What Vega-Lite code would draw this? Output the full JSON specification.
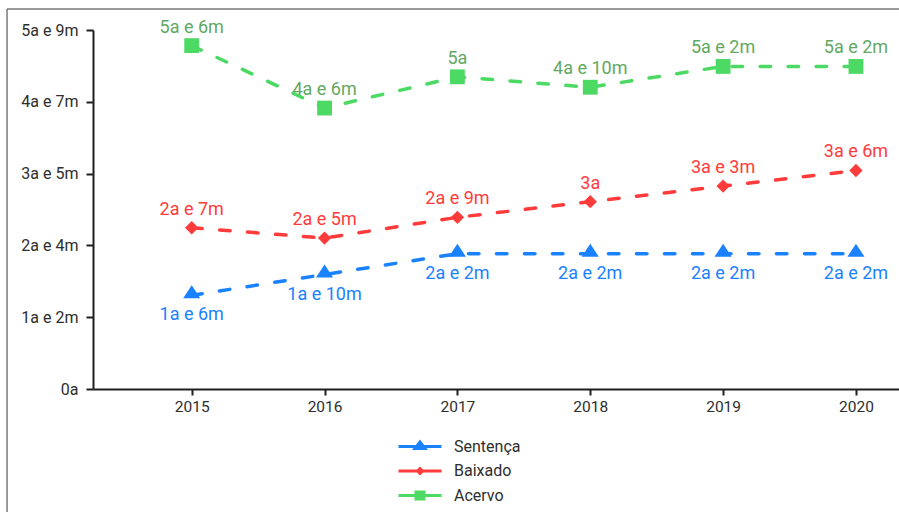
{
  "$schema": "https://vega.github.io/schema/vega-lite/v6.json",
  "width": 806,
  "height": 359,
  "autosize": {"type": "none"},
  "padding": {"left": 93, "top": 30, "right": 0, "bottom": 123},
  "background": "white",
  "config": {
    "view": {"stroke": null},
    "font": "Roboto",
    "axis": {
      "domainColor": "#1f1f1f",
      "domainWidth": 2,
      "tickColor": "#1f1f1f",
      "tickWidth": 2,
      "tickSize": 6,
      "labelColor": "#2e2e2e",
      "labelFont": "Roboto",
      "labelFontSize": 16,
      "grid": false,
      "title": null
    },
    "legend": {
      "title": null,
      "orient": "none",
      "legendX": 315.5,
      "legendY": 405,
      "padding": 0,
      "symbolSize": 400,
      "symbolStrokeWidth": 3,
      "symbolOpacity": 1,
      "labelOffset": 22.5,
      "rowPadding": 4.5,
      "labelFont": "Roboto",
      "labelFontSize": 16,
      "labelColor": "#2e2e2e"
    }
  },
  "datasets": {
    "tempos": [
      {"ano": 2015, "serie": "Sentença", "valor": 1.5, "rotulo": "1a e 6m"},
      {"ano": 2016, "serie": "Sentença", "valor": 1.8333, "rotulo": "1a e 10m"},
      {"ano": 2017, "serie": "Sentença", "valor": 2.1667, "rotulo": "2a e 2m"},
      {"ano": 2018, "serie": "Sentença", "valor": 2.1667, "rotulo": "2a e 2m"},
      {"ano": 2019, "serie": "Sentença", "valor": 2.1667, "rotulo": "2a e 2m"},
      {"ano": 2020, "serie": "Sentença", "valor": 2.1667, "rotulo": "2a e 2m"},
      {"ano": 2015, "serie": "Baixado", "valor": 2.5833, "rotulo": "2a e 7m"},
      {"ano": 2016, "serie": "Baixado", "valor": 2.4167, "rotulo": "2a e 5m"},
      {"ano": 2017, "serie": "Baixado", "valor": 2.75, "rotulo": "2a e 9m"},
      {"ano": 2018, "serie": "Baixado", "valor": 3.0, "rotulo": "3a"},
      {"ano": 2019, "serie": "Baixado", "valor": 3.25, "rotulo": "3a e 3m"},
      {"ano": 2020, "serie": "Baixado", "valor": 3.5, "rotulo": "3a e 6m"},
      {"ano": 2015, "serie": "Acervo", "valor": 5.5, "rotulo": "5a e 6m"},
      {"ano": 2016, "serie": "Acervo", "valor": 4.5, "rotulo": "4a e 6m"},
      {"ano": 2017, "serie": "Acervo", "valor": 5.0, "rotulo": "5a"},
      {"ano": 2018, "serie": "Acervo", "valor": 4.8333, "rotulo": "4a e 10m"},
      {"ano": 2019, "serie": "Acervo", "valor": 5.1667, "rotulo": "5a e 2m"},
      {"ano": 2020, "serie": "Acervo", "valor": 5.1667, "rotulo": "5a e 2m"}
    ]
  },
  "layer": [
    {
      "data": {"values": [{"moldura": "topo"}]},
      "mark": {"type": "rule", "color": "#7a7a7a", "strokeWidth": 1.5, "clip": false},
      "encoding": {
        "x": {"datum": 2013.61, "type": "quantitative", "scale": {"domain": [2014.257, 2020.324], "nice": false, "zero": false}},
        "x2": {"datum": 2020.6},
        "y": {"datum": 6.087, "type": "quantitative", "scale": {"domain": [0, 5.75], "nice": false, "zero": true}}
      }
    },
    {
      "data": {"values": [{"moldura": "esquerda"}]},
      "mark": {"type": "rule", "color": "#7a7a7a", "strokeWidth": 1.5, "clip": false},
      "encoding": {
        "x": {"datum": 2013.61, "type": "quantitative"},
        "y": {"datum": 6.087, "type": "quantitative"},
        "y2": {"datum": -2.2}
      }
    },
    {
      "data": {"name": "tempos"},
      "encoding": {
        "x": {
          "field": "ano",
          "type": "quantitative",
          "scale": {"domain": [2014.257, 2020.324], "nice": false, "zero": false},
          "axis": {"values": [2015, 2016, 2017, 2018, 2019, 2020], "format": "d", "labelPadding": 4, "labelFontSize": 15.5}
        },
        "y": {
          "field": "valor",
          "type": "quantitative",
          "scale": {"domain": [0, 5.75], "nice": false, "zero": true},
          "axis": {
            "values": [0, 1.15, 2.3, 3.45, 4.6, 5.75],
            "labelExpr": "['0a','1a e 2m','2a e 4m','3a e 5m','4a e 7m','5a e 9m'][round(datum.value / 1.15)]",
            "labelPadding": 8,
            "tickSize": 7
          }
        }
      },
      "layer": [
        {
          "transform": [{"filter": "datum.serie === 'Sentença'"}],
          "mark": {"type": "line", "color": "#1a82ff", "strokeWidth": 3.5, "strokeDash": [10.5, 17.5], "strokeCap": "round"}
        },
        {
          "transform": [{"filter": "datum.serie === 'Baixado'"}],
          "mark": {"type": "line", "color": "#ff3b3b", "strokeWidth": 3.5, "strokeDash": [10.5, 17.5], "strokeCap": "round"}
        },
        {
          "transform": [{"filter": "datum.serie === 'Acervo'"}],
          "mark": {"type": "line", "color": "#4cd964", "strokeWidth": 3.5, "strokeDash": [10.5, 17.5], "strokeCap": "round"}
        },
        {
          "transform": [{"filter": "datum.serie === 'Sentença'"}],
          "mark": {"type": "point", "filled": true, "opacity": 1, "size": 220, "color": "#1a82ff", "shape": "M-1.15,0.4L0,-1.35L1.15,0.4Z"}
        },
        {
          "transform": [{"filter": "datum.serie === 'Baixado'"}],
          "mark": {"type": "point", "filled": true, "opacity": 1, "size": 220, "color": "#ff3b3b", "shape": "M-0.9,0L0,-0.9L0.9,0L0,0.9Z"}
        },
        {
          "transform": [{"filter": "datum.serie === 'Acervo'"}],
          "mark": {"type": "point", "filled": true, "opacity": 1, "size": 220, "color": "#4cd964", "shape": "square"}
        },
        {
          "transform": [{"filter": "datum.serie === 'Acervo'"}],
          "mark": {"type": "text", "color": "#62a862", "fontSize": 18, "dy": -13, "baseline": "alphabetic", "align": "center"},
          "encoding": {"text": {"field": "rotulo"}}
        },
        {
          "transform": [{"filter": "datum.serie === 'Baixado'"}],
          "mark": {"type": "text", "color": "#ff3b3b", "fontSize": 18, "dy": -13, "baseline": "alphabetic", "align": "center"},
          "encoding": {"text": {"field": "rotulo"}}
        },
        {
          "transform": [{"filter": "datum.serie === 'Sentença'"}],
          "mark": {"type": "text", "color": "#1a82ff", "fontSize": 18, "dy": 25, "baseline": "alphabetic", "align": "center"},
          "encoding": {"text": {"field": "rotulo"}}
        },
        {
          "transform": [{"filter": "false"}],
          "mark": {"type": "point", "filled": true, "opacity": 1, "strokeWidth": 3},
          "encoding": {
            "fill": {
              "field": "serie",
              "type": "nominal",
              "scale": {"domain": ["Sentença", "Baixado", "Acervo"], "range": ["#1a82ff", "#ff3b3b", "#4cd964"]}
            },
            "stroke": {
              "field": "serie",
              "type": "nominal",
              "scale": {"domain": ["Sentença", "Baixado", "Acervo"], "range": ["#1a82ff", "#ff3b3b", "#4cd964"]}
            },
            "shape": {
              "field": "serie",
              "type": "nominal",
              "scale": {
                "domain": ["Sentença", "Baixado", "Acervo"],
                "range": [
                  "M-2.15,0H2.15M-0.5,0.2L0,-0.45L0.5,0.2Z",
                  "M-2.15,0H2.15M-0.25,0L0,-0.25L0.25,0L0,0.25Z",
                  "M-2.15,0H2.15M-0.4,-0.35H0.4V0.35H-0.4Z"
                ]
              }
            }
          }
        }
      ]
    }
  ]
}
